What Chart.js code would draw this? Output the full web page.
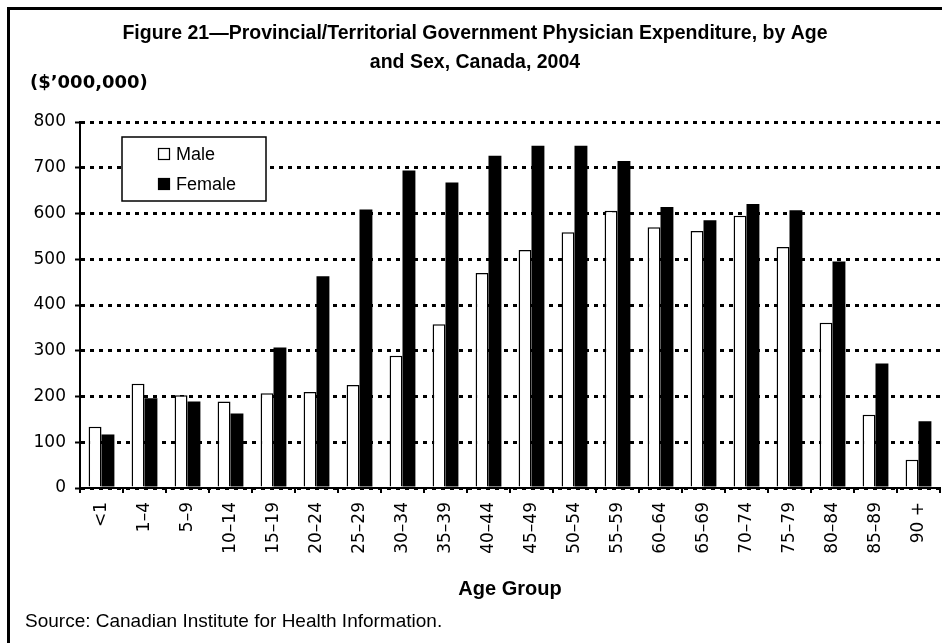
<!DOCTYPE html>
<html lang="en">
<head>
    <meta charset="UTF-8">
    <script src="https://cdn.jsdelivr.net/npm/chart.js"></script>
    <title>Figure 21</title>
    <style>
        body {
            margin: 0;
            background: #ffffff;
            overflow: hidden;
        }
        canvas {
            display: block;
        }
    </style>
</head>
<body>
<canvas id="myChart" width="942" height="643"></canvas>
<script>
    // values ($'000,000)
    const ageGroups = ['<1', '1–4', '5–9', '10–14', '15–19', '20–24', '25–29', '30–34', '35–39', '40–44',
        '45–49', '50–54', '55–59', '60–64', '65–69', '70–74', '75–79', '80–84', '85–89', '90 +'];
    const maleValues = [134, 228, 203, 189, 207, 210, 225, 289, 358, 470, 520, 559, 606, 570, 562, 595, 527, 361, 160, 62];
    const femaleValues = [117, 196, 189, 163, 307, 463, 609, 694, 668, 726, 748, 748, 715, 614, 585, 621, 607, 495, 272, 146];
    const seriesNames = ['Male', 'Female'];
    const yMax = 800;
    const yStep = 100;

    const titleLines = ['Figure 21\u2014Provincial/Territorial Government Physician Expenditure, by Age',
        'and Sex, Canada, 2004'];
    const unitLabel = '($\u2019000,000)';
    const sourceText = 'Source: Canadian Institute for Health Information.';

    const sans = "'Liberation Sans', Arial, sans-serif";
    const wide = "'DejaVu Sans', sans-serif";

    // frame, unit label, legend and source note
    const extrasPlugin = {
        id: 'extras',
        beforeDraw(chart) {
            const ctx = chart.ctx;
            ctx.save();
            ctx.fillStyle = '#ffffff';
            ctx.fillRect(0, 0, chart.width, chart.height);
            ctx.strokeStyle = '#000000';
            ctx.lineWidth = 3;
            ctx.strokeRect(8.5, 8.5, chart.width + 40, chart.height + 40);
            ctx.restore();
        },
        afterDraw(chart) {
            const ctx = chart.ctx;
            ctx.save();
            ctx.fillStyle = '#000000';
            ctx.textBaseline = 'middle';
            ctx.textAlign = 'left';

            ctx.font = 'bold 18px ' + wide;
            ctx.fillText(unitLabel, 30, 83);

            ctx.font = '19px ' + sans;
            ctx.fillText(sourceText, 25, 622);

            // legend box
            const bx = 122, by = 137, bw = 144, bh = 64;
            ctx.fillStyle = '#ffffff';
            ctx.fillRect(bx, by, bw, bh);
            ctx.strokeStyle = '#000000';
            ctx.lineWidth = 1.5;
            ctx.strokeRect(bx, by, bw, bh);
            chart.data.datasets.forEach((ds, i) => {
                const cy = by + 17 + i * 30;
                ctx.fillStyle = ds.backgroundColor;
                ctx.fillRect(158, cy - 6, 12, 12);
                ctx.strokeStyle = '#000000';
                ctx.lineWidth = 1.2;
                ctx.strokeRect(158.5, cy - 5.5, 11, 11);
                ctx.fillStyle = '#000000';
                ctx.font = '18px ' + sans;
                ctx.fillText(ds.label, 176, cy + 1);
            });
            ctx.restore();
        }
    };

    const ctx = document.getElementById('myChart');
    new Chart(ctx, {
        type: 'bar',
        data: {
            labels: ageGroups,
            datasets: [
                {
                    label: seriesNames[0],
                    data: maleValues,
                    backgroundColor: '#ffffff',
                    borderColor: '#000000',
                    borderWidth: 1.5
                },
                {
                    label: seriesNames[1],
                    data: femaleValues,
                    backgroundColor: '#000000',
                    borderColor: '#000000',
                    borderWidth: 0
                }
            ]
        },
        options: {
            responsive: false,
            animation: false,
            devicePixelRatio: 1,
            categoryPercentage: 0.6,
            barPercentage: 1.0,
            layout: {
                padding: {left: 10, right: 2, top: 0, bottom: 42}
            },
            plugins: {
                legend: {display: false},
                tooltip: {enabled: false},
                title: {
                    display: true,
                    text: titleLines,
                    color: '#000000',
                    font: {family: sans, size: 19.5, weight: 'bold', lineHeight: 29 / 19.5},
                    padding: {top: 19, bottom: 45}
                }
            },
            scales: {
                x: {
                    grid: {
                        display: true,
                        drawOnChartArea: false,
                        offset: true,
                        color: '#000000',
                        lineWidth: 2,
                        tickLength: 5
                    },
                    border: {display: true, color: '#000000', width: 2},
                    ticks: {
                        color: '#000000',
                        font: {family: wide, size: 17},
                        maxRotation: 90,
                        minRotation: 90,
                        autoSkip: false,
                        padding: 9
                    },
                    title: {
                        display: true,
                        text: 'Age Group',
                        color: '#000000',
                        font: {family: sans, size: 20, weight: 'bold'},
                        padding: {top: 0, bottom: 0}
                    },
                    afterFit: (scale) => {
                        scale.height = 113;
                        scale.paddingLeft = 0;
                        scale.paddingRight = 0;
                    }
                },
                y: {
                    min: 0,
                    max: yMax,
                    ticks: {
                        stepSize: yStep,
                        color: '#000000',
                        font: {family: wide, size: 17},
                        padding: 9
                    },
                    grid: {
                        color: '#000000',
                        lineWidth: 3,
                        tickLength: 5,
                        tickWidth: 2,
                        tickBorderDash: []
                    },
                    border: {display: true, color: '#000000', width: 2, dash: [4, 5]},
                    afterFit: (scale) => {
                        scale.width = 70;
                    }
                }
            }
        },
        plugins: [extrasPlugin]
    });
</script>
</body>
</html>
